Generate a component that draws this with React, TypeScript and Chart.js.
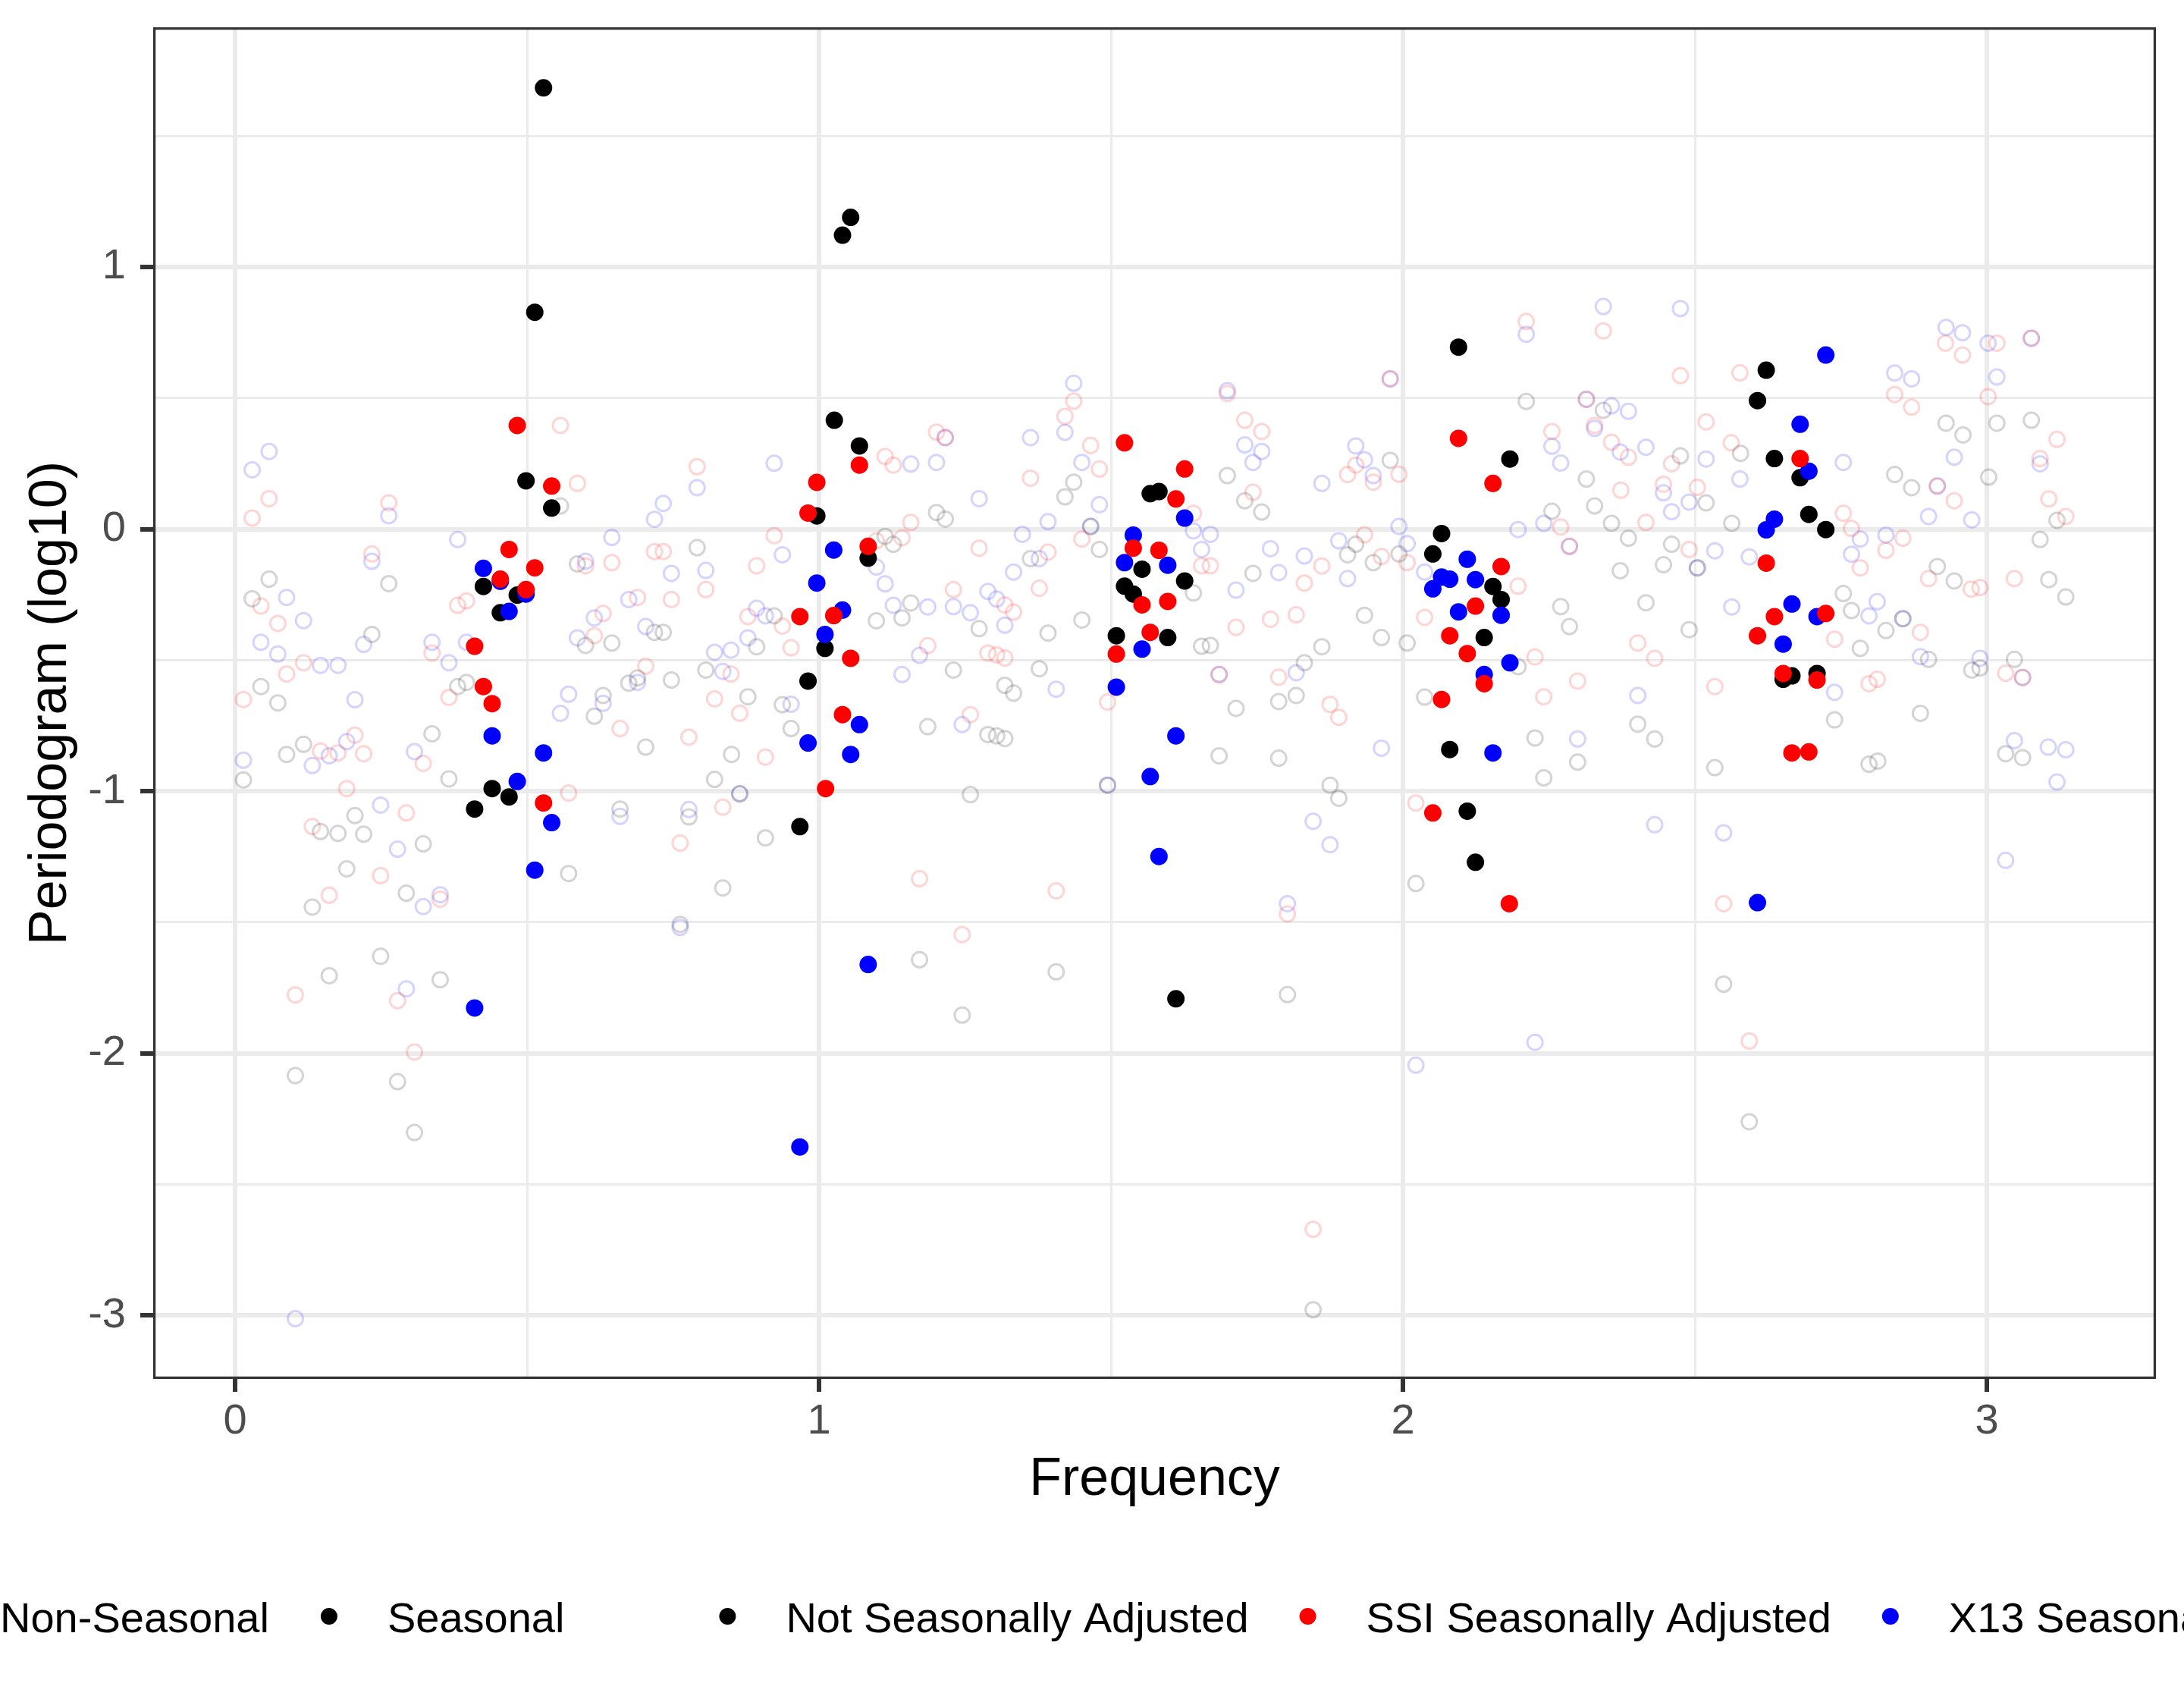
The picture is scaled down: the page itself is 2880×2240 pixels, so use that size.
import React, { useEffect, useRef } from "react";
import { Chart, registerables } from "chart.js";

Chart.register(...registerables);

type Pt = [number, number];

// Non-seasonal periodogram ordinates (faint hollow circles)
const nonSeasonalNSA: Pt[] = [
  [0.557, 0.088], [0.058, -0.191], [0.029, -0.266], [0.263, -0.208], [0.234, -0.402], [0.586, -0.133],
  [0.791, -0.071], [0.718, -0.394], [0.733, -0.394], [0.6, -0.444], [0.645, -0.435], [0.689, -0.568],
  [0.674, -0.588], [0.747, -0.576], [0.806, -0.538], [0.923, -0.331], [0.893, -0.449], [0.878, -0.64],
  [0.937, -0.67], [0.63, -0.635], [0.044, -0.601], [0.073, -0.663], [0.381, -0.601], [0.396, -0.585],
  [0.615, -0.714], [0.337, -0.781], [0.117, -0.821], [0.088, -0.86], [0.014, -0.957], [0.366, -0.953],
  [0.952, -0.761], [0.703, -0.832], [0.85, -0.86], [0.821, -0.955], [0.864, -1.01], [0.205, -1.093],
  [0.146, -1.154], [0.176, -1.161], [0.22, -1.164], [0.322, -1.201], [0.659, -1.068], [0.777, -1.098],
  [0.908, -1.178], [0.191, -1.296], [0.293, -1.389], [0.571, -1.314], [0.132, -1.442], [0.835, -1.369],
  [0.762, -1.508], [0.249, -1.63], [0.161, -1.704], [0.351, -1.719], [0.103, -2.085], [0.278, -2.108],
  [0.307, -2.302],
  [1.436, 0.179], [1.421, 0.123], [1.465, 0.01], [1.48, -0.078], [1.201, 0.063], [1.216, 0.038],
  [1.113, -0.028], [1.127, -0.058], [1.362, -0.113], [1.157, -0.282], [1.098, -0.35], [1.142, -0.339],
  [1.274, -0.38], [1.392, -0.397], [1.45, -0.347], [1.23, -0.538], [1.377, -0.533], [1.318, -0.596],
  [1.333, -0.626], [1.699, 0.204], [1.729, 0.108], [1.758, 0.065], [1.641, -0.244], [1.743, -0.169],
  [1.655, -0.447], [1.67, -0.444], [1.831, -0.51], [1.861, -0.449], [1.817, -0.635], [1.714, -0.684],
  [1.787, -0.658], [1.905, -0.098], [1.919, -0.058], [1.949, -0.128], [1.993, -0.095], [1.934, -0.329],
  [1.963, -0.414], [2.007, -0.435], [1.978, 0.262], [2.037, -0.641],
  [1.186, -0.754], [1.289, -0.784], [1.304, -0.789], [1.318, -0.799], [1.685, -0.865], [1.787, -0.874],
  [1.494, -0.977], [1.259, -1.013], [1.875, -0.977], [1.89, -1.027], [2.022, -1.352], [1.172, -1.643],
  [1.406, -1.689], [1.245, -1.854], [1.802, -1.776], [1.846, -2.978],
  [2.211, 0.487], [2.343, 0.453], [2.475, 0.279], [2.578, 0.289], [2.314, 0.191], [2.519, 0.1],
  [2.328, 0.088], [2.255, 0.068], [2.357, 0.022], [2.563, 0.022], [2.386, -0.035], [2.46, -0.058],
  [2.446, -0.136], [2.504, -0.148], [2.372, -0.159], [2.27, -0.296], [2.416, -0.281], [2.285, -0.372],
  [2.49, -0.384], [2.197, -0.525],
  [2.93, 0.404], [2.959, 0.359], [3.017, 0.404], [3.076, 0.415], [2.842, 0.208], [2.871, 0.158],
  [3.003, 0.198], [3.12, 0.033], [3.091, -0.04], [2.915, -0.143], [2.944, -0.198], [3.106, -0.193],
  [3.135, -0.259], [2.754, -0.246], [2.768, -0.311], [2.856, -0.342], [2.827, -0.387], [2.783, -0.455],
  [2.9, -0.497], [2.974, -0.538], [2.988, -0.53], [3.047, -0.497],
  [2.226, -0.797], [2.241, -0.949], [2.299, -0.889], [2.402, -0.744], [2.431, -0.801], [2.534, -0.91],
  [2.549, -1.736], [2.593, -2.261], [2.739, -0.728], [2.886, -0.703], [2.798, -0.897], [2.813, -0.885],
  [3.032, -0.857], [3.061, -0.872],
];

const nonSeasonalSSI: Pt[] = [
  [0.058, 0.116], [0.029, 0.042], [0.263, 0.1], [0.557, 0.395], [0.586, 0.174], [0.791, 0.238],
  [0.923, -0.025], [0.893, -0.14], [0.718, -0.086], [0.733, -0.086], [0.645, -0.128], [0.6, -0.14],
  [0.806, -0.231], [0.747, -0.269], [0.689, -0.261], [0.63, -0.322], [0.615, -0.407], [0.703, -0.523],
  [0.849, -0.553], [0.878, -0.334], [0.937, -0.37], [0.952, -0.453], [0.821, -0.648], [0.044, -0.294],
  [0.073, -0.36], [0.234, -0.095], [0.117, -0.51], [0.088, -0.553], [0.014, -0.65], [0.381, -0.291],
  [0.396, -0.274], [0.337, -0.473], [0.366, -0.642],
  [0.864, -0.703], [0.205, -0.786], [0.146, -0.847], [0.176, -0.854], [0.22, -0.857], [0.322, -0.894],
  [0.659, -0.761], [0.777, -0.794], [0.908, -0.87], [0.191, -0.99], [0.571, -1.007], [0.293, -1.083],
  [0.132, -1.135], [0.835, -1.061], [0.762, -1.198], [0.249, -1.322], [0.161, -1.397], [0.351, -1.412],
  [0.103, -1.777], [0.278, -1.799], [0.307, -1.995],
  [1.436, 0.488], [1.421, 0.43], [1.465, 0.319], [1.48, 0.229], [1.45, -0.038], [1.201, 0.37],
  [1.216, 0.349], [1.113, 0.277], [1.127, 0.244], [1.362, 0.194], [1.157, 0.025], [1.142, -0.033],
  [1.098, -0.045], [1.274, -0.073], [1.392, -0.088], [1.23, -0.231], [1.377, -0.226], [1.318, -0.289],
  [1.333, -0.317], [1.186, -0.445], [1.289, -0.473], [1.304, -0.48], [1.318, -0.492], [1.494, -0.66],
  [1.699, 0.517], [1.729, 0.415], [1.758, 0.372], [1.743, 0.14], [1.641, 0.06], [1.655, -0.14],
  [1.67, -0.14], [1.714, -0.375], [1.773, -0.344], [1.817, -0.327], [1.685, -0.555], [1.787, -0.565],
  [1.875, -0.669], [1.861, -0.141], [1.831, -0.206], [1.934, -0.022], [1.963, -0.105], [2.007, -0.128],
  [2.037, -0.337], [1.905, 0.208], [1.919, 0.244], [1.949, 0.179], [1.993, 0.209], [1.978, 0.573],
  [1.259, -0.708], [1.89, -0.718], [2.022, -1.045], [1.172, -1.334], [1.406, -1.38], [1.802, -1.468],
  [1.245, -1.547], [1.846, -2.671],
  [2.211, 0.792], [2.343, 0.756], [2.475, 0.585], [2.577, 0.596], [2.314, 0.495], [2.328, 0.395],
  [2.255, 0.372], [2.357, 0.331], [2.386, 0.274], [2.519, 0.409], [2.562, 0.329], [2.46, 0.249],
  [2.446, 0.171], [2.373, 0.148], [2.504, 0.159], [2.27, 0.008], [2.416, 0.025], [2.285, -0.066],
  [2.49, -0.078], [2.197, -0.218], [2.402, -0.435], [2.431, -0.493], [2.226, -0.488], [2.299, -0.58],
  [2.241, -0.64], [2.534, -0.601],
  [2.929, 0.709], [2.958, 0.664], [3.017, 0.709], [3.076, 0.728], [2.842, 0.513], [2.871, 0.465],
  [3.002, 0.505], [3.12, 0.342], [3.091, 0.269], [2.915, 0.164], [2.944, 0.108], [3.106, 0.115],
  [3.135, 0.048], [2.754, 0.06], [2.768, 0.002], [2.856, -0.035], [2.827, -0.081], [2.783, -0.148],
  [2.9, -0.189], [2.973, -0.229], [2.988, -0.223], [3.047, -0.189], [2.739, -0.42], [2.886, -0.394],
  [3.032, -0.55], [3.061, -0.566], [2.798, -0.59], [2.812, -0.573],
  [2.549, -1.429], [2.593, -1.953],
];

const nonSeasonalX13: Pt[] = [
  [0.029, 0.226], [0.058, 0.296], [0.263, 0.051], [0.381, -0.04], [0.791, 0.158], [0.923, 0.251],
  [0.733, 0.098], [0.718, 0.037], [0.937, -0.098], [0.645, -0.032], [0.6, -0.123], [0.747, -0.169],
  [0.806, -0.158], [0.674, -0.269], [0.615, -0.339], [0.703, -0.372], [0.586, -0.415], [0.689, -0.585],
  [0.835, -0.543], [0.821, -0.47], [0.849, -0.462], [0.893, -0.302], [0.908, -0.331], [0.878, -0.415],
  [0.952, -0.668], [0.571, -0.63], [0.088, -0.261], [0.117, -0.349], [0.234, -0.123], [0.22, -0.44],
  [0.044, -0.432], [0.073, -0.477], [0.146, -0.52], [0.176, -0.52], [0.205, -0.651], [0.337, -0.432],
  [0.366, -0.51], [0.396, -0.432], [0.63, -0.665],
  [0.557, -0.703], [0.014, -0.882], [0.132, -0.902], [0.161, -0.865], [0.191, -0.811], [0.307, -0.849],
  [0.249, -1.053], [0.278, -1.221], [0.351, -1.395], [0.322, -1.44], [0.293, -1.754], [0.659, -1.096],
  [0.777, -1.07], [0.864, -1.01], [0.762, -1.52], [0.103, -3.012],
  [1.436, 0.556], [1.421, 0.369], [1.45, 0.254], [1.48, 0.093], [1.465, 0.01], [1.216, 0.349],
  [1.157, 0.248], [1.201, 0.254], [1.362, 0.349], [1.274, 0.116], [1.348, -0.02], [1.392, 0.028],
  [1.377, -0.113], [1.098, -0.145], [1.113, -0.209], [1.333, -0.164], [1.289, -0.238], [1.304, -0.267],
  [1.127, -0.291], [1.186, -0.297], [1.23, -0.296], [1.259, -0.319], [1.318, -0.367], [1.172, -0.482],
  [1.142, -0.555], [1.406, -0.611],
  [1.699, 0.528], [1.729, 0.321], [1.758, 0.296], [1.743, 0.254], [1.641, -0.007], [1.67, -0.02],
  [1.655, -0.078], [1.714, -0.233], [1.773, -0.075], [1.787, -0.166], [1.685, -0.555], [1.817, -0.548],
  [1.831, -0.103], [1.89, -0.045], [1.905, -0.189], [1.993, 0.01], [2.007, -0.056], [2.037, -0.164],
  [1.919, 0.317], [1.934, 0.264], [1.949, 0.204], [1.861, 0.174], [1.978, 0.573],
  [1.245, -0.746], [1.963, -0.836], [1.494, -0.977], [1.846, -1.115], [1.875, -1.204], [1.802, -1.429],
  [2.022, -2.045],
  [2.343, 0.849], [2.475, 0.841], [2.211, 0.743], [2.314, 0.495], [2.357, 0.47], [2.386, 0.449],
  [2.328, 0.384], [2.255, 0.316], [2.27, 0.252], [2.372, 0.294], [2.416, 0.312], [2.519, 0.267],
  [2.577, 0.191], [2.446, 0.138], [2.49, 0.103], [2.46, 0.066], [2.241, 0.022], [2.197, -0.002],
  [2.285, -0.066], [2.534, -0.083], [2.593, -0.106], [2.504, -0.148], [2.563, -0.297], [2.402, -0.635],
  [2.93, 0.769], [2.958, 0.749], [3.002, 0.709], [3.076, 0.728], [2.842, 0.595], [2.871, 0.573],
  [3.017, 0.58], [3.091, 0.249], [2.754, 0.254], [2.944, 0.274], [2.915, 0.164], [2.9, 0.048],
  [2.974, 0.035], [2.783, -0.038], [2.768, -0.096], [2.827, -0.023], [2.812, -0.277], [2.798, -0.331],
  [2.856, -0.342], [2.886, -0.487], [2.988, -0.493], [3.061, -0.566], [2.739, -0.623],
  [2.299, -0.801], [2.431, -1.128], [2.549, -1.159], [2.226, -1.958], [3.047, -0.807], [3.105, -0.832],
  [3.135, -0.842], [3.12, -0.965], [3.032, -1.264],
];

// Seasonal frequencies (filled dots)
const seasonalNSA: Pt[] = [
  [0.528, 1.683], [0.513, 0.827], [0.498, 0.184], [0.542, 0.08], [0.425, -0.219], [0.483, -0.252],
  [0.454, -0.319], [0.44, -0.99], [0.469, -1.022], [0.41, -1.068],
  [0.996, 0.05], [1.01, -0.455], [0.981, -0.58], [1.026, 0.415], [1.054, 1.189], [1.04, 1.121],
  [1.069, 0.317], [1.084, -0.111], [0.967, -1.135],
  [1.567, 0.135], [1.582, 0.143], [1.553, -0.153], [1.523, -0.218], [1.538, -0.248], [1.626, -0.198],
  [1.509, -0.407], [1.597, -0.414], [1.611, -1.792],
  [2.095, 0.694], [2.183, 0.267], [2.066, -0.017], [2.051, -0.095], [2.154, -0.219], [2.168, -0.269],
  [2.139, -0.414], [2.08, -0.841], [2.11, -1.076], [2.124, -1.271],
  [2.622, 0.606], [2.607, 0.49], [2.636, 0.269], [2.68, 0.196], [2.695, 0.056], [2.724, -0.002],
  [2.651, -0.573], [2.666, -0.56], [2.709, -0.551],
];

const seasonalSSI: Pt[] = [
  [0.483, 0.395], [0.542, 0.164], [0.469, -0.078], [0.454, -0.191], [0.513, -0.148], [0.498, -0.231],
  [0.41, -0.447], [0.425, -0.601], [0.44, -0.666], [0.528, -1.045],
  [0.996, 0.178], [0.981, 0.061], [0.967, -0.334], [1.025, -0.33], [1.069, 0.244], [1.084, -0.066],
  [1.054, -0.493], [1.04, -0.708], [1.011, -0.99],
  [1.523, 0.329], [1.626, 0.229], [1.611, 0.115], [1.538, -0.073], [1.582, -0.081], [1.553, -0.289],
  [1.597, -0.276], [1.567, -0.394], [1.509, -0.477],
  [2.095, 0.346], [2.154, 0.174], [2.168, -0.143], [2.124, -0.294], [2.08, -0.407], [2.11, -0.475],
  [2.139, -0.59], [2.066, -0.65], [2.051, -1.083], [2.182, -1.429],
  [2.68, 0.269], [2.622, -0.13], [2.636, -0.334], [2.724, -0.322], [2.607, -0.407], [2.651, -0.551],
  [2.709, -0.576], [2.666, -0.854], [2.695, -0.85],
];

const seasonalX13: Pt[] = [
  [0.425, -0.15], [0.454, -0.199], [0.498, -0.248], [0.469, -0.314], [0.44, -0.789], [0.528, -0.854],
  [0.483, -0.963], [0.542, -1.12], [0.513, -1.301], [0.41, -1.827],
  [1.025, -0.08], [0.996, -0.206], [1.01, -0.402], [1.04, -0.309], [0.981, -0.816], [0.967, -2.357],
  [1.069, -0.746], [1.054, -0.86], [1.084, -1.661],
  [1.538, -0.023], [1.523, -0.128], [1.597, -0.138], [1.626, 0.042], [1.553, -0.458], [1.509, -0.603],
  [1.611, -0.789], [1.567, -0.944], [1.582, -1.249],
  [2.11, -0.115], [2.066, -0.183], [2.08, -0.191], [2.051, -0.228], [2.124, -0.193], [2.095, -0.316],
  [2.168, -0.329], [2.183, -0.51], [2.139, -0.555], [2.154, -0.854],
  [2.724, 0.664], [2.68, 0.4], [2.695, 0.221], [2.636, 0.038], [2.622, -0.003], [2.666, -0.286],
  [2.709, -0.334], [2.651, -0.439], [2.607, -1.425],
];

const shapeLabels = ["Non-Seasonal", "Seasonal"];
const colourLabels = ["Not Seasonally Adjusted", "SSI Seasonally Adjusted", "X13 Seasonally Adjusted"];
const colours = ["#000000", "#FF0000", "#0000FF"];
const fadedColours = ["rgba(0,0,0,0.17)", "rgba(255,0,0,0.17)", "rgba(0,0,255,0.17)"];

const FONT = '"Liberation Sans", Arial, Helvetica, sans-serif';

const toXY = (pts: Pt[]) => pts.map(([x, y]) => ({ x, y }));
const isWhole = (v: number) => Math.abs(v - Math.round(v)) < 1e-6;

const panelBorder = {
  id: "panelBorder",
  afterDatasetsDraw(chart: any) {
    const { ctx, chartArea: a } = chart;
    ctx.save();
    ctx.strokeStyle = "#333333";
    ctx.lineWidth = 3.2;
    ctx.strokeRect(a.left + 1.6, a.top + 1.6, a.right - a.left - 3.2, a.bottom - a.top - 3.2);
    ctx.restore();
  },
};

const bottomLegend = {
  id: "bottomLegend",
  afterDraw(chart: any) {
    const { ctx } = chart;
    const cy = 2131;
    const r = 11;
    ctx.save();
    ctx.font = `56px ${FONT}`;
    ctx.textBaseline = "middle";
    ctx.textAlign = "left";
    let x = -77;
    const item = (label: string, draw: (cx: number) => void, gap: number) => {
      draw(x);
      ctx.fillStyle = "#000000";
      ctx.fillText(label, x + 77, cy + 6);
      x = x + 77 + ctx.measureText(label).width + gap;
    };
    const hollow = (cx: number) => {
      ctx.beginPath();
      ctx.arc(cx, cy, 10, 0, Math.PI * 2);
      ctx.strokeStyle = "rgba(0,0,0,0.5)";
      ctx.lineWidth = 3;
      ctx.stroke();
    };
    const dot = (c: string) => (cx: number) => {
      ctx.beginPath();
      ctx.arc(cx, cy, r, 0, Math.PI * 2);
      ctx.fillStyle = c;
      ctx.fill();
    };
    item(shapeLabels[0], hollow, 79);
    item(shapeLabels[1], dot("#000000"), 215);
    colourLabels.forEach((l, i) => item(l, dot(colours[i]), 78));
    ctx.restore();
  },
};

const App = () => {
  const canvasRef = useRef<HTMLCanvasElement | null>(null);

  useEffect(() => {
    const ctx = canvasRef.current?.getContext("2d");
    if (!ctx) return;

    const faint = (data: Pt[], i: number) => ({
      label: colourLabels[i] + " (Non-Seasonal)",
      data: toXY(data),
      pointRadius: 10,
      pointBorderWidth: 3,
      pointBackgroundColor: "rgba(0,0,0,0)",
      pointBorderColor: fadedColours[i],
      order: 10,
    });
    const solid = (data: Pt[], i: number, order: number) => ({
      label: colourLabels[i] + " (Seasonal)",
      data: toXY(data),
      pointRadius: 11.5,
      pointBorderWidth: 0,
      pointBackgroundColor: colours[i],
      pointBorderColor: colours[i],
      order,
    });

    const gridOpts = {
      color: "#EBEBEB",
      lineWidth: (c: any) => (c.tick && isWhole(c.tick.value) ? 6 : 3),
      tickColor: (c: any) => (c.tick && isWhole(c.tick.value) ? "#333333" : "rgba(0,0,0,0)"),
      tickWidth: 6,
      tickLength: 17,
    };
    const tickFont = { family: FONT, size: 56 };
    const label = (v: any) => (isWhole(Number(v)) ? String(Math.round(Number(v))) : "");

    const chart = new Chart(ctx, {
      type: "scatter",
      data: {
        datasets: [
          faint(nonSeasonalNSA, 0),
          faint(nonSeasonalSSI, 1),
          faint(nonSeasonalX13, 2),
          solid(seasonalNSA, 0, 3),
          solid(seasonalX13, 2, 2),
          solid(seasonalSSI, 1, 1),
        ] as any,
      },
      options: {
        animation: false,
        responsive: false,
        events: [],
        layout: { padding: { left: 0, top: 36, right: 37, bottom: 222 } },
        plugins: { legend: { display: false }, tooltip: { enabled: false } },
        scales: {
          x: {
            type: "linear",
            min: -0.1405,
            max: 3.2894,
            border: { display: false },
            grid: gridOpts as any,
            ticks: {
              stepSize: 0.5,
              includeBounds: false,
              autoSkip: false,
              maxRotation: 0,
              padding: 6,
              color: "#4D4D4D",
              font: tickFont,
              callback: label,
            },
            title: {
              display: true,
              text: "Frequency",
              color: "#000000",
              font: { family: FONT, size: 70 },
              padding: { top: 0, bottom: 24 },
            },
            afterFit: (s: any) => {
              s.height = 200;
              s.paddingLeft = 0;
              s.paddingRight = 0;
            },
          },
          y: {
            type: "linear",
            min: -3.242,
            max: 1.914,
            border: { display: false },
            grid: gridOpts as any,
            ticks: {
              stepSize: 0.5,
              includeBounds: false,
              autoSkip: false,
              padding: 19,
              color: "#4D4D4D",
              font: tickFont,
              callback: label,
            },
            title: {
              display: true,
              text: "Periodogram (log10)",
              color: "#000000",
              font: { family: FONT, size: 70 },
              padding: { top: 26, bottom: 0 },
            },
            afterFit: (s: any) => {
              s.width = 202;
              s.paddingTop = 0;
              s.paddingBottom = 0;
            },
          },
        },
      },
      plugins: [panelBorder, bottomLegend],
    });

    return () => {
      chart.destroy();
    };
  }, []);

  return (
    <div style={{ position: "absolute", left: 0, top: 0, width: 2880, height: 2240, background: "#FFFFFF" }}>
      <canvas ref={canvasRef} width={2880} height={2240} style={{ width: 2880, height: 2240 }} />
    </div>
  );
};

export default App;
